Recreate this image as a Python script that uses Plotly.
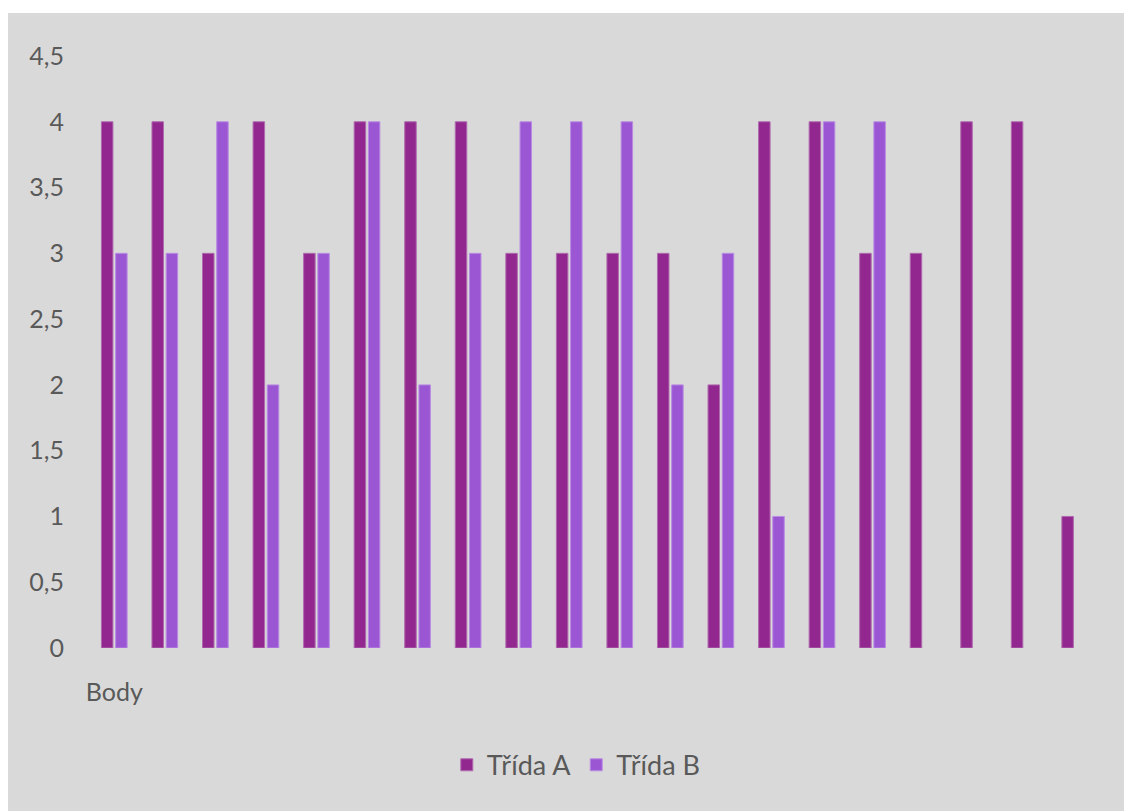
import plotly.graph_objects as go

categories = list(range(1, 21))
tick_labels = ["Body"] + [""] * 19
trida_a = [4, 4, 3, 4, 3, 4, 4, 4, 3, 3, 3, 3, 2, 4, 4, 3, 3, 4, 4, 1]
trida_b = [3, 3, 4, 2, 3, 4, 2, 3, 4, 4, 4, 2, 3, 1, 4, 4, None, None, None, None]

col_a = "#92278F"
col_b = "#9B57D3"
txt = "#595959"
font_family = "Lato, 'Open Sans', sans-serif"

W, H = 1124, 811
L, R, T, B = 89, 24, 56, 163
pw, ph = W - L - R, H - T - B

fig = go.Figure()
fig.add_trace(go.Bar(name="Třída A", x=categories, y=trida_a,
                     marker=dict(color=col_a, line=dict(color="#B06AAE", width=1))))
fig.add_trace(go.Bar(name="Třída B", x=categories, y=trida_b,
                     marker=dict(color=col_b, line=dict(color="#B98BE3", width=1))))

fig.update_layout(
    width=W, height=H,
    margin=dict(l=L, r=R, t=T, b=B),
    paper_bgcolor="white",
    plot_bgcolor="rgba(0,0,0,0)",
    separators=", ",
    barmode="group",
    bargap=0.4385,
    bargroupgap=0.19,
    font=dict(family=font_family, size=25, color=txt),
    showlegend=True,
    legend=dict(orientation="h", x=0.482, xanchor="center", y=-0.198, yanchor="middle",
                font=dict(size=27, color=txt), bgcolor="rgba(0,0,0,0)"),
    shapes=[dict(type="rect", xref="paper", yref="paper", layer="below",
                 x0=(8 - L) / pw, x1=(W - L) / pw,
                 y0=-B / ph, y1=(H - B - 13) / ph,
                 fillcolor="#D9D9D9", line=dict(width=0))],
)
fig.update_xaxes(tickmode="array", tickvals=categories, ticktext=tick_labels,
                 range=[0.5, 20.5], showgrid=False, zeroline=False, showline=False,
                 ticks="", ticklabelstandoff=27, tickfont=dict(size=25, color=txt))
fig.update_yaxes(range=[0, 4.5], dtick=0.5, tick0=0, showgrid=False, zeroline=False,
                 showline=False, ticks="", ticklabelstandoff=24,
                 tickfont=dict(size=25, color=txt))

fig.write_html("out.html",
               config={"displayModeBar": False},
               post_script="document.body.style.margin='0';document.body.style.overflow='hidden';")
